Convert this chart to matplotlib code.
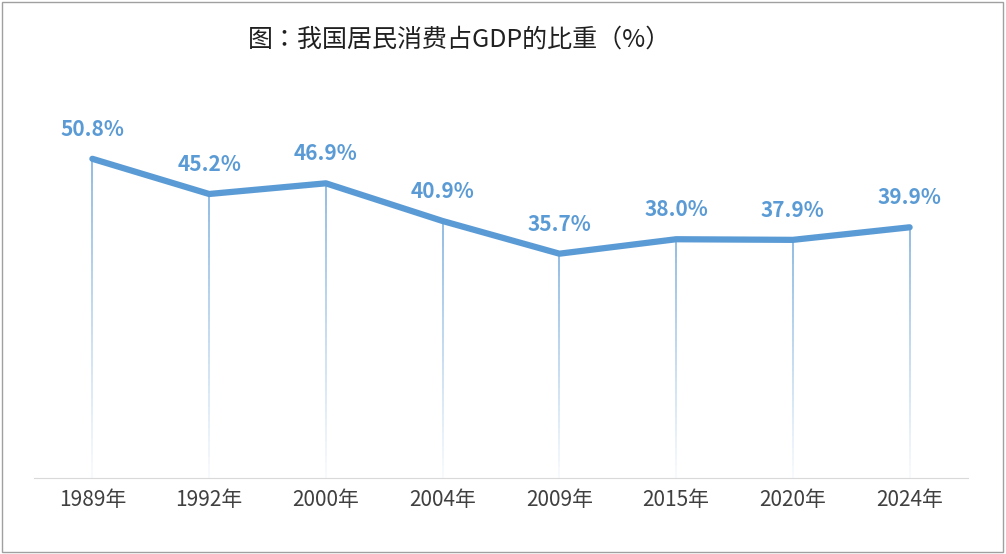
import numpy as np
import matplotlib.pyplot as plt
from matplotlib import font_manager
from matplotlib.collections import LineCollection
from matplotlib.patches import Rectangle

# register a CJK font file explicitly in case the name lookup misses it
cjk = [f for f in font_manager.findSystemFonts() if 'CJK' in f and ('SC' in f or 'ttc' in f.lower())]
for f in cjk:
    try:
        font_manager.fontManager.addfont(f)
    except Exception:
        pass
names = {font_manager.FontProperties(fname=f).get_name() for f in cjk} if cjk else set()
fam = 'Noto Sans CJK SC' if 'Noto Sans CJK SC' in names else (sorted(names)[0] if names else 'DejaVu Sans')
plt.rcParams['font.family'] = [fam, 'DejaVu Sans']

years = ['1989年', '1992年', '2000年', '2004年', '2009年', '2015年', '2020年', '2024年']
share = [50.8, 45.2, 46.9, 40.9, 35.7, 38.0, 37.9, 39.9]

blue = '#5B9BD5'
fig = plt.figure(figsize=(10.06, 5.54), dpi=100)
ax = fig.add_axes([34 / 1006, 76 / 554, 934 / 1006, 377 / 554])
x = np.arange(len(years))

# drop lines fading toward the baseline
n = 40
for xi, v in zip(x, share):
    ys = np.linspace(0, v, n + 1)
    segs = [[(xi, ys[i]), (xi, ys[i + 1])] for i in range(n)]
    cols = [(0.357, 0.608, 0.835, 0.05 + 0.75 * i / n) for i in range(n)]
    ax.add_collection(LineCollection(segs, colors=cols, linewidths=1.2))

ax.plot(x, share, color=blue, lw=4.5, solid_capstyle='round', zorder=3)
for xi, v in zip(x, share):
    ax.text(xi, v + 3.0, f'{v:.1f}%', ha='center', va='bottom', color=blue,
            fontsize=15, fontweight='bold')

ax.set_xlim(-0.5, len(years) - 0.5)
ax.set_ylim(0, 60)
ax.set_xticks(x)
ax.set_xticklabels(years, fontsize=15, color='#404040')
ax.tick_params(axis='x', length=0, pad=8)
ax.set_yticks([])
for s in ['top', 'right', 'left']:
    ax.spines[s].set_visible(False)
ax.spines['bottom'].set_color('#D9D9D9')

fig.text(460 / 1006, 1 - 40 / 554, '图：我国居民消费占GDP的比重（%）', ha='center', va='center',
         fontsize=18, color='#202020')
fig.patches.append(Rectangle((0.002, 0.003), 0.995, 0.993, transform=fig.transFigure,
                             fill=False, edgecolor='#A0A0A0', lw=1))
fig.savefig('out.png', dpi=100)
